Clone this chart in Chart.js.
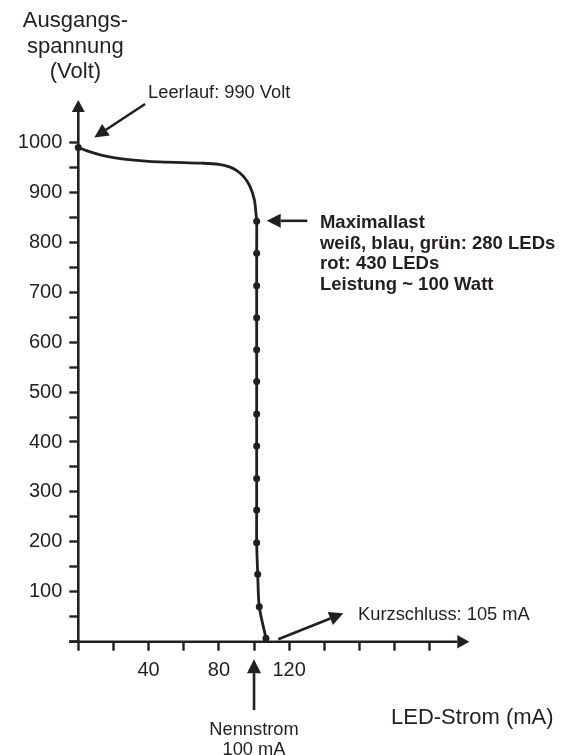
<!DOCTYPE html>
<html lang="de">
<head>
<meta charset="utf-8">
<title>Kennlinie LED-Treiber</title>
<script src="https://cdn.jsdelivr.net/npm/chart.js@4.4.1/dist/chart.umd.min.js"></script>
<style>
  html, body { margin: 0; padding: 0; background: #fff; }
  #wrap { width: 571px; height: 755px; }
</style>
</head>
<body>
<div id="wrap"><canvas id="kennlinie" width="571" height="755"></canvas></div>
<script>
// Kurvenverlauf zwischen den Messpunkten (Strom in mA, Spannung in V)
const kurveStrom    = [5, 10, 15, 20, 30, 40, 50, 60, 70, 80, 86, 90, 94, 97.7, 100.2, 101.1];
const kurveSpannung = [983, 977.5, 973, 969.5, 965, 962, 960.5, 959.5, 958.5, 956, 951, 944, 932, 912, 885, 858];

// Messpunkte (als Punkte gezeichnet)
const punkteStrom    = [0, 101.5, 101.5, 101.5, 101.5, 101.5, 101.5, 101.5, 101.5, 101.5, 101.5, 101.5, 102.1, 103, 106.8];
const punkteSpannung = [990, 842, 778, 713, 649, 585, 521, 456, 392, 327, 264, 198, 135, 70, 7];

// Achsen
const xTicks  = [0, 20, 40, 60, 80, 100, 120, 140, 160, 180, 200];
const xLabels = [40, 80, 120];
const yTicks  = [0, 50, 100, 150, 200, 250, 300, 350, 400, 450, 500, 550, 600, 650, 700, 750, 800, 850, 900, 950, 1000];
const yLabels = [100, 200, 300, 400, 500, 600, 700, 800, 900, 1000];

const schwarz = '#231f20';
const schrift = '"Liberation Sans", Arial, Helvetica, sans-serif';

// Linie: Startpunkt, Kurve, dann die restlichen Messpunkte
const linie = [{ x: punkteStrom[0], y: punkteSpannung[0] }]
    .concat(kurveStrom.map((x, i) => ({ x, y: kurveSpannung[i] })))
    .concat(punkteStrom.slice(1).map((x, i) => ({ x, y: punkteSpannung[i + 1] })));
const punkte = punkteStrom.map((x, i) => ({ x, y: punkteSpannung[i] }));

function pfeil(ctx, x1, y1, x2, y2, len = 14, half = 7) {
    const a = Math.atan2(y2 - y1, x2 - x1);
    const bx = x2 - Math.cos(a) * len, by = y2 - Math.sin(a) * len;
    ctx.beginPath();
    ctx.moveTo(x1, y1);
    ctx.lineTo(bx, by);
    ctx.stroke();
    ctx.beginPath();
    ctx.moveTo(x2, y2);
    ctx.lineTo(bx + Math.sin(a) * half, by - Math.cos(a) * half);
    ctx.lineTo(bx - Math.sin(a) * half, by + Math.cos(a) * half);
    ctx.closePath();
    ctx.fill();
}

// Achsen mit Pfeilspitzen, zuerst zeichnen
const achsen = {
    id: 'achsen',
    beforeDatasetsDraw(chart) {
        const { ctx, chartArea: ca } = chart;
        ctx.save();
        ctx.strokeStyle = schwarz;
        ctx.fillStyle = schwarz;
        ctx.lineWidth = 2.6;
        pfeil(ctx, ca.left, ca.bottom + 1, ca.left, ca.top, 12, 6.5);
        pfeil(ctx, ca.left - 9, ca.bottom, ca.right, ca.bottom, 12, 6.8);
        ctx.restore();
    }
};

// Beschriftungen und Hinweispfeile
const hinweise = {
    id: 'hinweise',
    afterDraw(chart) {
        const { ctx } = chart;
        const sx = chart.scales.x, sy = chart.scales.y;
        const px = v => sx.getPixelForValue(v);
        const py = v => sy.getPixelForValue(v);
        ctx.save();
        ctx.strokeStyle = schwarz;
        ctx.fillStyle = schwarz;
        ctx.lineWidth = 2.6;

        // Leerlauf
        pfeil(ctx, px(38), py(1077), px(9.1), py(1010));
        // Maximallast
        pfeil(ctx, px(130.3), py(843), px(107.2), py(843));
        // Kurzschluss
        pfeil(ctx, px(113.8), py(5), px(150.8), py(57));
        // Nennstrom
        pfeil(ctx, px(100), py(-137), px(100), py(-35));

        ctx.textBaseline = 'alphabetic';
        ctx.textAlign = 'left';
        ctx.font = '18.3px ' + schrift;
        ctx.fillText('Leerlauf: 990 Volt', px(39.7), py(1089));
        ctx.fillText('Kurzschluss: 105 mA', px(159.2), py(43));

        ctx.textAlign = 'center';
        ctx.fillText('Nennstrom', px(100), py(-187));
        ctx.fillText('100 mA', px(100), py(-226));

        ctx.textAlign = 'left';
        ctx.font = 'bold 18.5px ' + schrift;
        const mx = px(137.5), my = py(829);
        ['Maximallast', 'weiß, blau, grün: 280 LEDs', 'rot: 430 LEDs', 'Leistung ~ 100 Watt']
            .forEach((t, i) => ctx.fillText(t, mx, my + i * 20.8));

        // Achsentitel
        ctx.font = '22px ' + schrift;
        ctx.textAlign = 'center';
        ['Ausgangs-', 'spannung', '(Volt)'].forEach((t, i) => ctx.fillText(t, 75.4, 27 + i * 25.5));
        ctx.textAlign = 'left';
        ctx.fillText('LED-Strom (mA)', 391, 724);
        ctx.restore();
    }
};

new Chart(document.getElementById('kennlinie'), {
    type: 'scatter',
    data: {
        datasets: [
            {
                data: linie,
                showLine: true,
                borderColor: schwarz,
                borderWidth: 2.8,
                tension: 0.3,
                pointRadius: 0,
                clip: false
            },
            {
                data: punkte,
                showLine: false,
                pointRadius: 3.5,
                pointBackgroundColor: schwarz,
                pointBorderWidth: 0,
                clip: false
            }
        ]
    },
    options: {
        responsive: false,
        animation: false,
        events: [],
        layout: { padding: { top: 100, right: 101.7, bottom: 0, left: 0 } },
        plugins: { legend: { display: false }, tooltip: { enabled: false } },
        scales: {
            x: {
                type: 'linear',
                min: 0,
                max: 222.5,
                border: { display: false },
                grid: { drawOnChartArea: false, color: schwarz, tickLength: 9, tickWidth: 2.4 },
                afterBuildTicks: s => { s.ticks = xTicks.map(v => ({ value: v })); },
                afterFit: s => { s.height = 113.3; },
                ticks: {
                    autoSkip: false,
                    maxRotation: 0,
                    padding: 8,
                    color: schwarz,
                    font: { family: schrift, size: 20 },
                    callback: v => xLabels.includes(v) ? String(v) : ''
                }
            },
            y: {
                type: 'linear',
                min: 0,
                max: 1085,
                border: { display: false },
                grid: { drawOnChartArea: false, color: schwarz, tickLength: 9, tickWidth: 2.4 },
                afterBuildTicks: s => { s.ticks = yTicks.map(v => ({ value: v })); },
                afterFit: s => { s.width = 78.3; },
                ticks: {
                    autoSkip: false,
                    padding: 7,
                    color: schwarz,
                    font: { family: schrift, size: 20 },
                    callback: v => yLabels.includes(v) ? String(v) : ''
                }
            }
        }
    },
    plugins: [achsen, hinweise]
});
</script>
</body>
</html>
